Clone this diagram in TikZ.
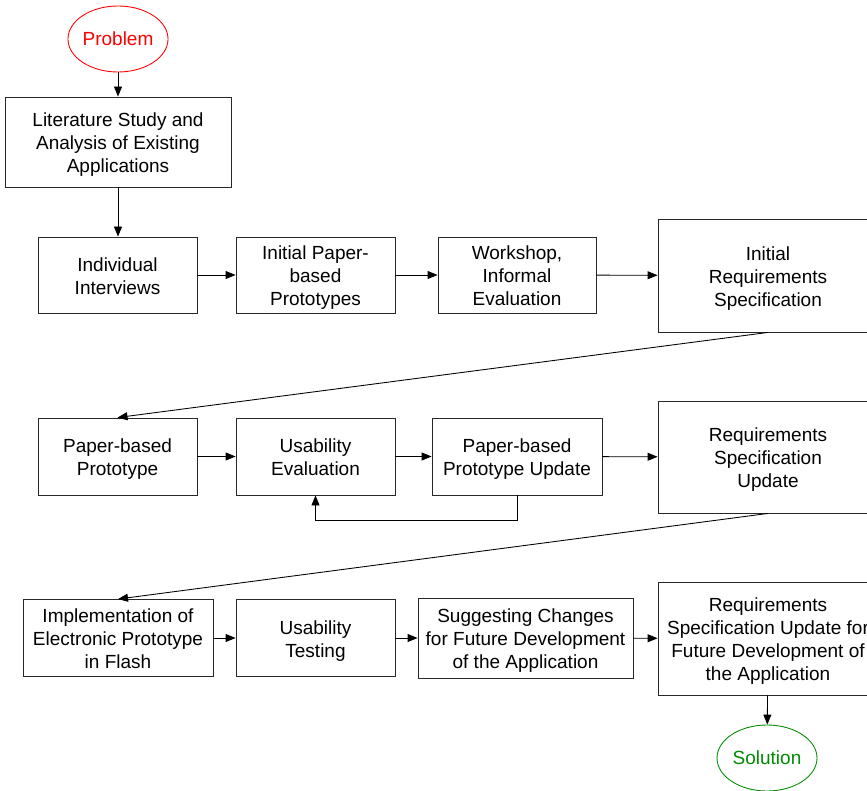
\documentclass[tikz,border=0pt]{standalone}
\usepackage{fontspec}
\setmainfont{Liberation Sans}
\usetikzlibrary{arrows.meta,shapes.geometric}
\definecolor{termred}{RGB}{255,0,0}
\definecolor{termgreen}{RGB}{0,140,0}
\definecolor{edgegray}{RGB}{40,40,40}
% invisible struts that keep the text blocks vertically balanced
\newcommand{\firstline}{\rule{0pt}{14.9pt}}
\begin{document}
\begin{tikzpicture}[x=0.75pt,y=-0.75pt,
  font=\fontsize{14.25pt}{17.25pt}\selectfont,
  procbox/.style={draw=edgegray,line width=0.65pt,fill=white,align=center,inner sep=0pt,
    minimum width=#1,
    execute at end node={\rule[-3pt]{0pt}{0pt}}},
  terminal/.style={draw=#1,text=#1,ellipse,line width=0.65pt,inner sep=0pt,
    minimum width=75pt,minimum height=49.5pt},
  arr/.style={draw=black,line width=0.65pt,-{Triangle[length=7.5pt,width=6pt]}}]
\useasboundingbox (0,0) rectangle (867,791);

% start and end terminals
\node[terminal=termred] (prob) at (118,39) {Problem};
\node[terminal=termgreen] (sol) at (767,758) {Solution};

% first phase
\node[procbox=169.5pt,minimum height=67.5pt] (lit) at (118,142)
  {\firstline Literature Study and\\Analysis of Existing\\Applications};
\node[procbox=119.25pt,minimum height=57pt] (indiv) at (117.5,275)
  {\firstline Individual\\Interviews};
\node[procbox=119.25pt,minimum height=57pt] (ipp) at (315.5,275)
  {\firstline Initial Paper-\\based\\Prototypes};
\node[procbox=118.5pt,minimum height=57pt] (work) at (517,275)
  {\firstline Workshop,\\Informal\\Evaluation};
\node[procbox=165pt,minimum height=84.75pt] (irs) at (768,275.5)
  {\firstline Initial\\Requirements\\Specification};

% second phase
\node[procbox=119.25pt,minimum height=57.75pt] (ppb) at (117.5,456.5)
  {\firstline Paper-based\\Prototype};
\node[procbox=119.25pt,minimum height=57.75pt] (ue) at (315.5,456.5)
  {\firstline Usability\\Evaluation};
\node[procbox=127.5pt,minimum height=57.75pt] (ppu) at (517,456.5)
  {\firstline Paper-based\\Prototype Update};
\node[procbox=165pt,minimum height=84pt] (rsu) at (768,457)
  {\firstline Requirements\\Specification\\Update};

% third phase
\node[procbox=142.5pt,minimum height=57.75pt] (impl) at (118,638)
  {\firstline Implementation of\\Electronic Prototype\\in Flash};
\node[procbox=119.25pt,minimum height=57.75pt] (ut) at (315.5,638)
  {\firstline Usability\\Testing};
\node[procbox=161.25pt,minimum height=60pt] (sugg) at (525.5,638)
  {\firstline Suggesting Changes\\for Future Development\\of the Application};
\node[procbox=165pt,minimum height=84.75pt] (rsf) at (768,638.5)
  {\firstline Requirements\\Specification Update for\\Future Development of\\the Application};

% connectors
\draw[arr] (prob) -- (lit);
\draw[arr] (lit) -- (indiv.north -| lit.south);
\draw[arr] (indiv) -- (ipp);
\draw[arr] (ipp) -- (work);
\draw[arr] (work) -- (irs);
\draw[arr] (irs.south) -- (ppb.north);
\draw[arr] (ppb) -- (ue);
\draw[arr] (ue) -- (ppu);
\draw[arr] (ppu) -- (rsu);
\draw[arr] (ppu.south) -- ++(0,25) -| (ue.south);
\draw[arr] (rsu.south) -- (impl.north);
\draw[arr] (impl) -- (ut);
\draw[arr] (ut) -- (sugg);
\draw[arr] (sugg) -- (rsf);
\draw[arr] (rsf) -- (sol);
\end{tikzpicture}
\end{document}
